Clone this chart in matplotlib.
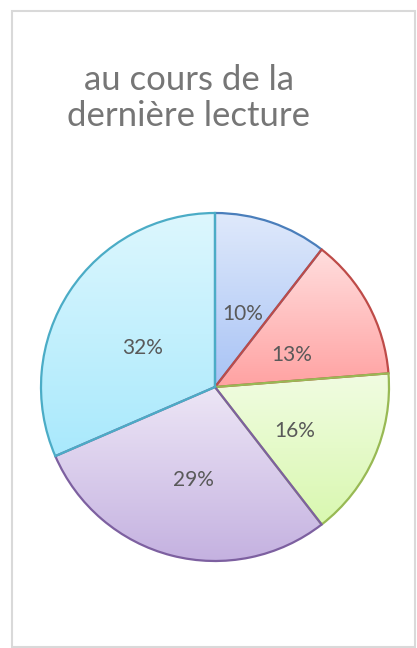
import numpy as np
import matplotlib
matplotlib.use("Agg")
import matplotlib.pyplot as plt
from matplotlib.colors import LinearSegmentedColormap
from matplotlib.patches import Rectangle

title = "au cours de la\ndernière lecture"
values = [10.5, 13.25, 15.75, 29.0, 31.5]
labels = ["10%", "13%", "16%", "29%", "32%"]
top_colors = ["#dfe9fb", "#ffdede", "#f1fce2", "#ede6f6", "#ddf7fe"]
bottom_colors = ["#a8c3f5", "#ffa2a2", "#d9f8b0", "#c4b1e0", "#a9e9fc"]
edge_colors = ["#4a7ebb", "#be4b48", "#98b954", "#7d60a0", "#4bacc6"]

W, H = 417, 648
fig = plt.figure(figsize=(W / 100, H / 100), dpi=100)
ax = fig.add_axes([0, 0, 1, 1])

# chart frame
ax.add_patch(Rectangle((12.5, 1), 403, 636, fill=False, edgecolor="#d9d9d9", lw=1.5))

cx, cy, r = 215, H - 387, 174
wedges, _ = ax.pie(values, startangle=90, counterclock=False, center=(cx, cy),
                   radius=r, colors=["none"] * len(values), frame=True,
                   wedgeprops=dict(linewidth=1.6))

for w, top, bot, ec, lab in zip(wedges, top_colors, bottom_colors, edge_colors, labels):
    w.set_edgecolor(ec)
    w.set_zorder(3)
    # vertical gradient fill clipped to the slice
    verts = w.get_path().vertices
    x0, x1 = verts[:, 0].min(), verts[:, 0].max()
    y0, y1 = verts[:, 1].min(), verts[:, 1].max()
    cmap = LinearSegmentedColormap.from_list("g", [bot, top])
    grad = np.linspace(1, 0, 256).reshape(-1, 1)
    im = ax.imshow(grad, cmap=cmap, extent=(x0, x1, y0, y1), aspect="auto",
                   zorder=2, vmin=0, vmax=1)
    im.set_clip_path(w)
    mid = np.deg2rad((w.theta1 + w.theta2) / 2)
    ax.text(cx + 0.5 * r * np.cos(mid), cy + 0.5 * r * np.sin(mid) - 9, lab,
            ha="center", va="center", fontsize=15, color="#595959",
            family="Lato", zorder=4)

ax.set_xlim(0, W)
ax.set_ylim(0, H)
ax.set_aspect("auto")
ax.axis("off")

ax.text(189, H - 98, title, ha="center", va="center", fontsize=25,
        color="#767676", family="Lato", linespacing=1.12)

fig.savefig("out.png", dpi=100)
